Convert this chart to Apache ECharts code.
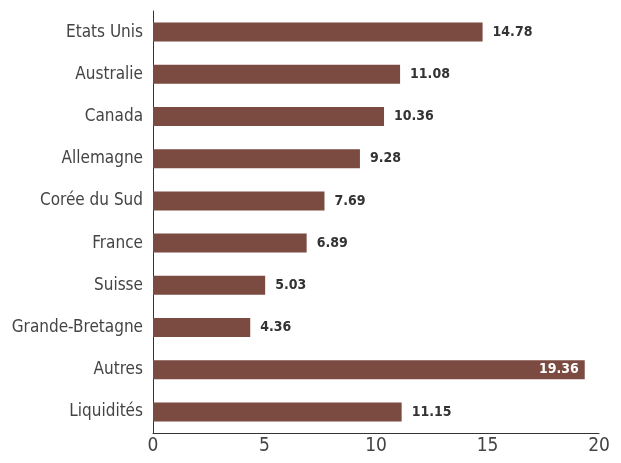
<!DOCTYPE html>
<html><head><meta charset="utf-8">
<script src="https://cdn.jsdelivr.net/npm/echarts@6/dist/echarts.min.js"></script>
<style>html,body{margin:0;padding:0;background:#fff}#c{width:621px;height:463px}</style>
</head><body><div id="c"></div>
<script>
const categories = ['Etats Unis','Australie','Canada','Allemagne','Corée du Sud','France','Suisse','Grande-Bretagne','Autres','Liquidités'];
const values = [14.78,11.08,10.36,9.28,7.69,6.89,5.03,4.36,19.36,11.15];
const xTicks = [0,5,10,15,20];
const insideIndex = 8;
const FONT = '"Liberation Sans Narrow","DejaVu Sans Condensed",sans-serif';
const chart = echarts.init(document.getElementById('c'), null, {renderer:'canvas'});
chart.setOption({
  animation:false,
  grid:{left:153,right:22,top:11,bottom:30,containLabel:false},
  xAxis:{type:'value',min:xTicks[0],max:xTicks[xTicks.length-1],interval:5,
    axisLine:{show:true,lineStyle:{color:'#333',width:1}},axisTick:{show:false},splitLine:{show:false},
    axisLabel:{color:'#444',fontSize:19,fontFamily:FONT,margin:4}},
  yAxis:{type:'category',inverse:true,data:categories,
    axisLine:{show:true,lineStyle:{color:'#333',width:1}},axisTick:{show:false},
    axisLabel:{color:'#444',fontSize:17,fontFamily:FONT,margin:10}},
  series:[{type:'bar',barWidth:'45%',itemStyle:{color:'#7B4A41'},
    data:values.map((v,i)=>({value:v,label: i===insideIndex ? {position:'insideRight',color:'#fff',distance:6} : {}})),
    label:{show:true,position:'right',distance:10,color:'#333',fontSize:14,fontWeight:'bold',fontFamily:FONT,
      formatter:p=>p.value.toFixed(2)}}]
});
</script></body></html>
